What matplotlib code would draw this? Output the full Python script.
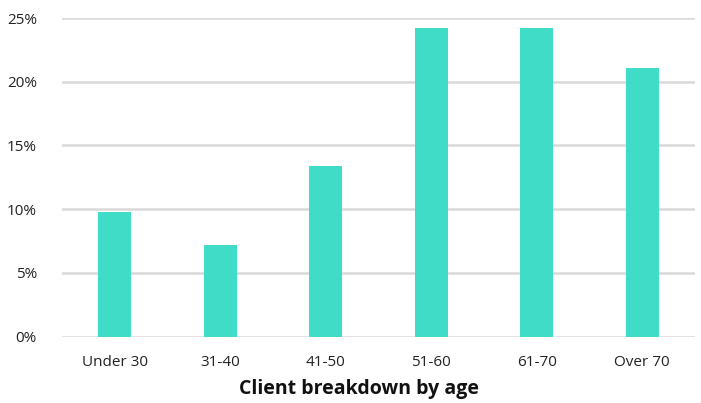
import matplotlib
matplotlib.use("Agg")
import matplotlib.pyplot as plt
from matplotlib.ticker import FuncFormatter

# Client share by age group (percent)
categories = ["Under 30", "31-40", "41-50", "51-60", "61-70", "Over 70"]
shares = [9.8, 7.2, 13.4, 24.2, 24.2, 21.1]
yticks = [0, 5, 10, 15, 20, 25]

plt.rcParams['font.family'] = ['Open Sans', 'DejaVu Sans']

fig = plt.figure(figsize=(7.01, 4.03), dpi=100)
ax = fig.add_axes([62 / 701, 1 - 336.5 / 403, 633 / 701, 318.5 / 403])

x = list(range(len(categories)))
ax.bar(x, shares, width=0.31, color="#41dcc8", zorder=3)

ax.set_xlim(-0.5, len(categories) - 0.5)
ax.set_ylim(0, 25)
ax.set_yticks(yticks)
ax.yaxis.set_major_formatter(FuncFormatter(lambda v, pos: "%d%%" % v))
ax.set_xticks(x)
ax.set_xticklabels(categories)

ax.grid(axis="y", color="#d9d9d9", linewidth=1.8, zorder=0)
ax.set_axisbelow(True)
for s in ax.spines.values():
    s.set_visible(False)
ax.tick_params(axis="both", length=0, labelsize=11, colors="#222222")
ax.tick_params(axis="x", pad=13)
ax.tick_params(axis="y", pad=18)
for lab in ax.get_yticklabels():
    lab.set_horizontalalignment("right")

ax.set_xlabel("Client breakdown by age", fontsize=14, fontweight="bold",
              color="#111111")
# the title sits a little left of the axes centre in the original
ax.xaxis.set_label_coords(0.469, -0.135)

fig.savefig("out.png", dpi=100)
